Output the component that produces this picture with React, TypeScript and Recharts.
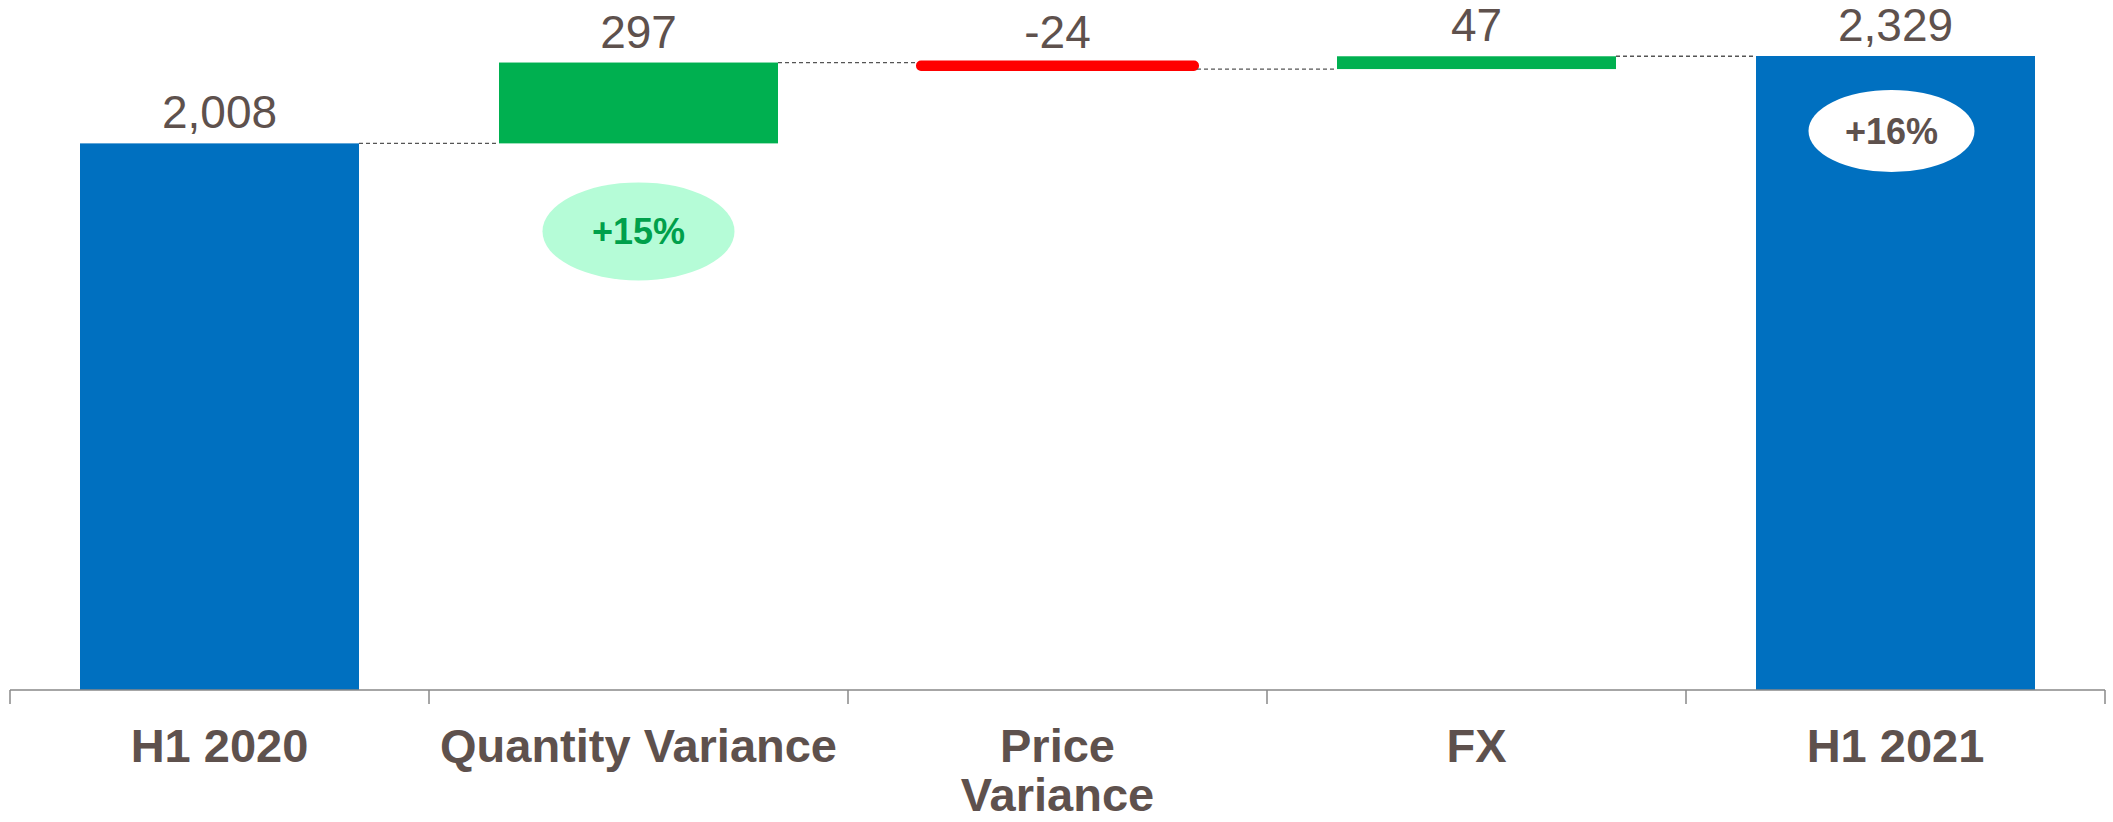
import { BarChart, Bar, XAxis, YAxis, Cell, LabelList } from "recharts";

const categories = ["H1 2020", "Quantity Variance", "Price\nVariance", "FX", "H1 2021"];
const changes = [2008, 297, -24, 47, 2329];
const kinds = ["total", "delta", "delta", "delta", "total"];
const valueLabels = ["2,008", "297", "-24", "47", "2,329"];
const pctLabels = ["", "+15%", "", "", "+16%"];

const W = 2113;
const H = 822;
const MARGIN = { top: 56, right: 8, left: 10, bottom: 0 };
const BAND = (W - MARGIN.left - MARGIN.right) / categories.length;

const TEXT = "#5e514d";
const FONT = "'Liberation Sans', Arial, sans-serif";

// build the invisible base + visible segment for each step of the waterfall
let running = 0;
const chartData = categories.map((name, i) => {
  const v = changes[i];
  let base = 0;
  let size = v;
  if (kinds[i] === "total") {
    running = v;
  } else if (v >= 0) {
    base = running;
    running += v;
  } else {
    base = running + v;
    size = -v;
    running += v;
  }
  return { name, base, size, kind: kinds[i], negative: v < 0, label: valueLabels[i], pct: pctLabels[i] };
});

const colorFor = (d: any) => (d.kind === "total" ? "#0070c0" : d.negative ? "#ff0000" : "#00b050");

const StepShape = (props: any) => {
  const { x, y, width, height, fill, index } = props;
  const d = chartData[index];
  const last = index === chartData.length - 1;
  const gap = BAND - width;
  const level = d.negative ? y + height : y;
  return (
    <g>
      {d.negative ? (
        <rect x={x} y={y} width={width} height={height} fill={fill} stroke={fill} strokeWidth={4} rx={3} ry={3} />
      ) : (
        <rect x={x} y={y} width={width} height={height} fill={fill} />
      )}
      {!last && (
        <line
          x1={x + width}
          x2={x + width + gap}
          y1={level}
          y2={level}
          stroke="#555"
          strokeWidth={1.3}
          strokeDasharray="4 3"
        />
      )}
      {d.pct && d.kind === "delta" && (
        <g>
          <ellipse cx={x + width / 2} cy={y + height + 88} rx={96} ry={49} fill="#b5fcd7" />
          <text
            x={x + width / 2}
            y={y + height + 101}
            textAnchor="middle"
            fontFamily={FONT}
            fontWeight="bold"
            fontSize={36}
            fill="#00a04b"
          >
            {d.pct}
          </text>
        </g>
      )}
      {d.pct && d.kind === "total" && (
        <g>
          <ellipse cx={x + width / 2 - 4} cy={y + 75} rx={83} ry={41} fill="#ffffff" />
          <text
            x={x + width / 2 - 4}
            y={y + 88}
            textAnchor="middle"
            fontFamily={FONT}
            fontWeight="bold"
            fontSize={36}
            fill={TEXT}
          >
            {d.pct}
          </text>
        </g>
      )}
    </g>
  );
};

const ValueLabel = (props: any) => {
  const { x, y, width, index } = props;
  const d = chartData[index];
  return (
    <text x={x + width / 2} y={y - 15} textAnchor="middle" fontFamily={FONT} fontSize={46} fill={TEXT}>
      {d.label}
    </text>
  );
};

const CategoryTick = (props: any) => {
  const { x, y, payload, index } = props;
  const lines = String(payload.value).split("\n");
  const isLast = index === categories.length - 1;
  return (
    <g>
      <line x1={x - BAND / 2} x2={x - BAND / 2} y1={y} y2={y + 14} stroke="#888" strokeWidth={1.5} />
      {isLast && <line x1={x + BAND / 2} x2={x + BAND / 2} y1={y} y2={y + 14} stroke="#888" strokeWidth={1.5} />}
      {lines.map((l, i) => (
        <text
          key={i}
          x={x}
          y={y + 72 + i * 49}
          textAnchor="middle"
          fontFamily={FONT}
          fontWeight="bold"
          fontSize={47}
          fill={TEXT}
        >
          {l}
        </text>
      ))}
    </g>
  );
};

export default function App() {
  return (
    <div style={{ position: "absolute", left: 0, top: 0, width: W, height: H, background: "#fff" }}>
      <BarChart width={W} height={H} data={chartData} margin={MARGIN} barSize={279}>
        <XAxis
          dataKey="name"
          height={132}
          interval={0}
          axisLine={{ stroke: "#888", strokeWidth: 1.5 }}
          tickLine={false}
          tickSize={0}
          tickMargin={0}
          tick={<CategoryTick />}
        />
        <YAxis hide domain={[0, 2329]} />
        <Bar dataKey="base" stackId="w" fill="transparent" isAnimationActive={false} />
        <Bar dataKey="size" stackId="w" shape={<StepShape />} isAnimationActive={false}>
          {chartData.map((d, i) => (
            <Cell key={i} fill={colorFor(d)} />
          ))}
          <LabelList dataKey="size" content={<ValueLabel />} />
        </Bar>
      </BarChart>
    </div>
  );
}
